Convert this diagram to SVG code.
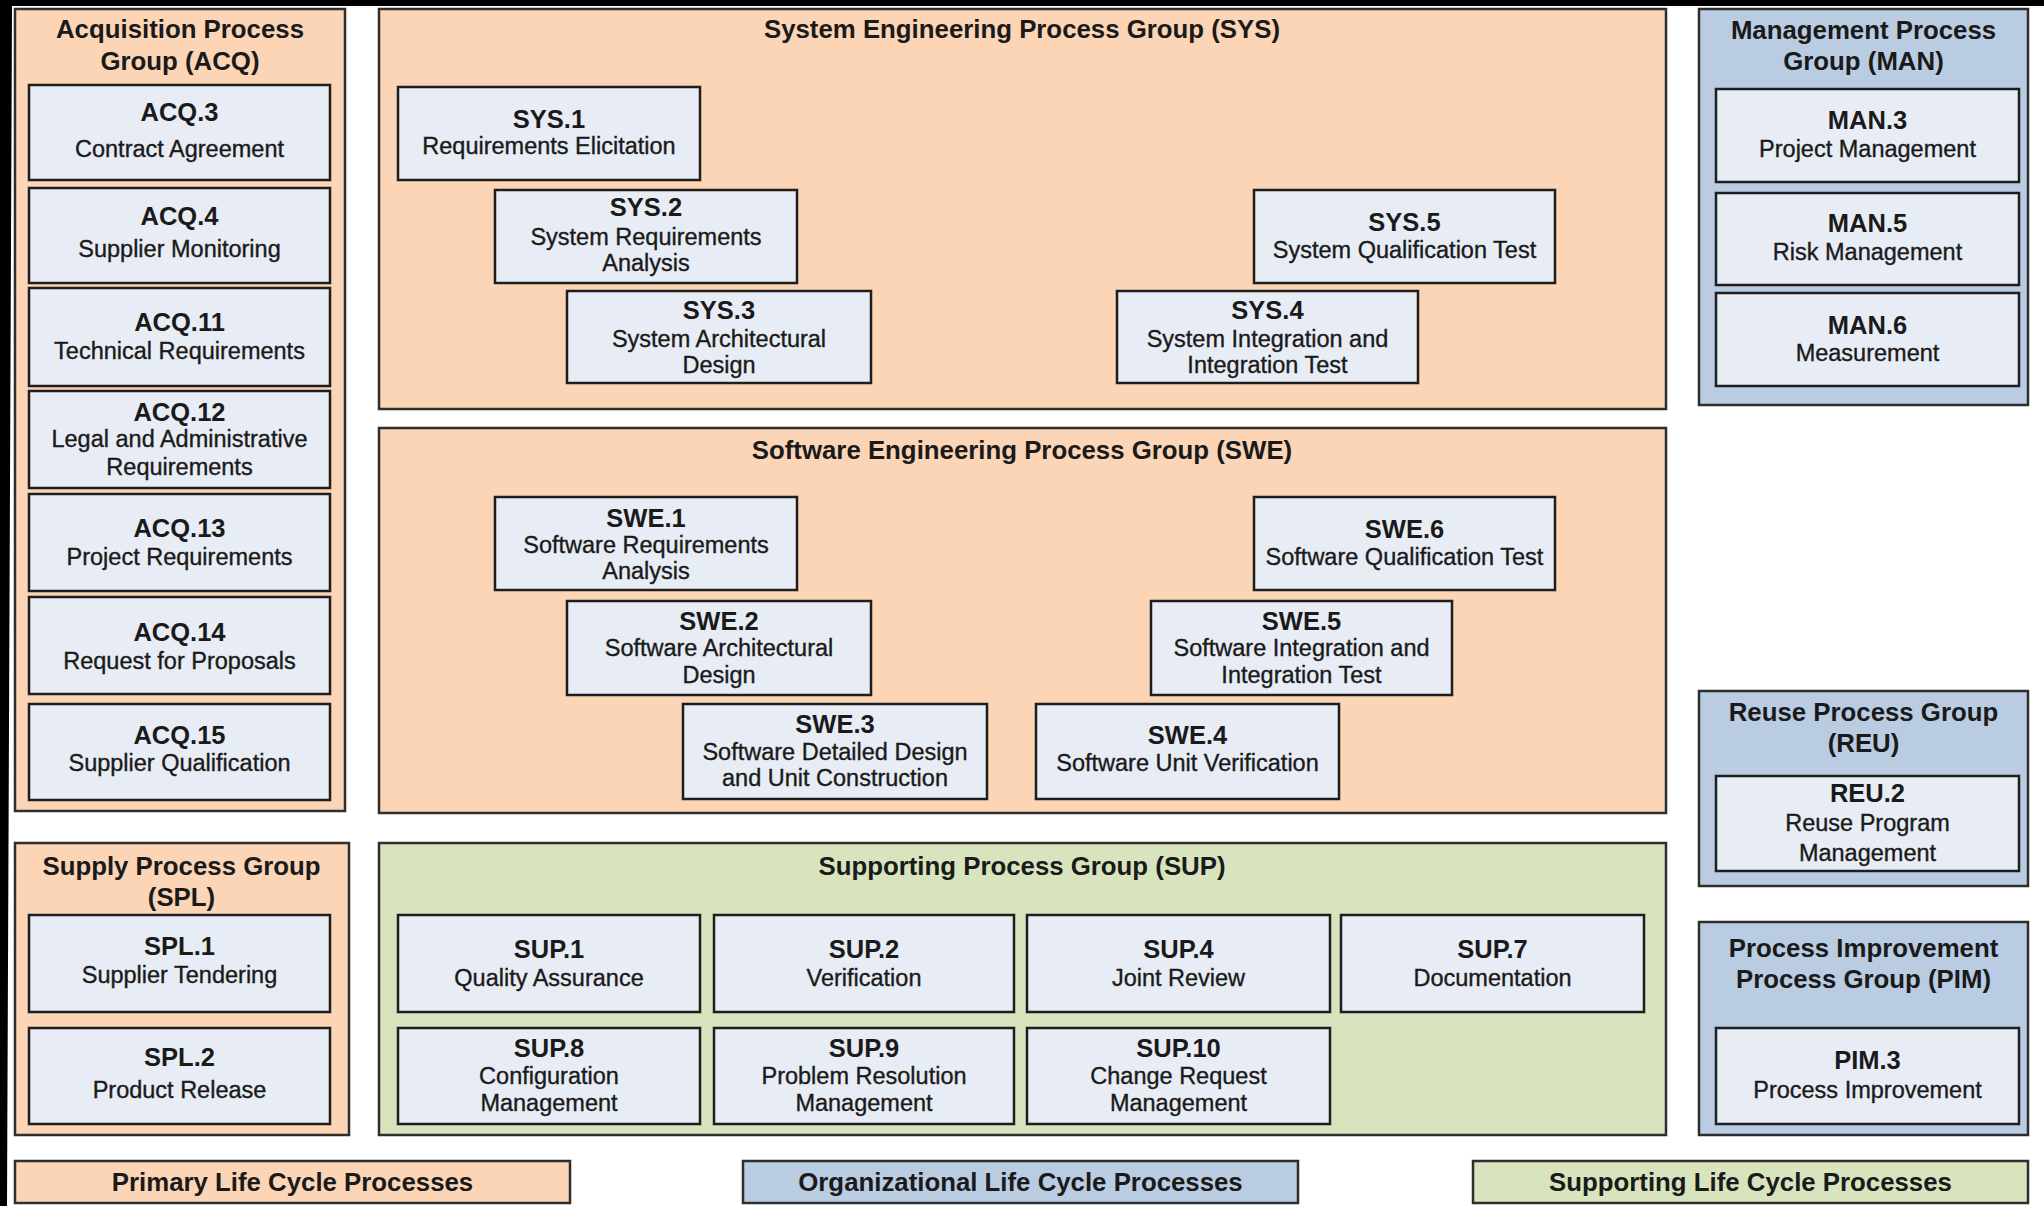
<svg xmlns="http://www.w3.org/2000/svg" width="2044" height="1206" viewBox="0 0 2044 1206">
  <style>
    .grp { stroke: #2e2e2e; stroke-width: 2.5; }
    .orange { fill: #FBD5B5; }
    .blue { fill: #BACCE2; }
    .green { fill: #D8E4BE; }
    .node rect { fill: #E7ECF5; stroke: #1e1e1e; stroke-width: 2.5; }
    text { font-family: "Liberation Sans", Arial, sans-serif; fill: #1a1a1a; text-anchor: middle; }
    .title { font-size: 25.8px; font-weight: bold; }
    .id { font-size: 25.5px; font-weight: bold; }
    .sub { font-size: 23.5px; stroke: #1a1a1a; stroke-width: 0.35; }
  </style>

  <!-- page background and black frame -->
  <rect x="0" y="0" width="2044" height="1206" fill="#ffffff"/>
  <polygon points="0,0 2044,0 2044,6 12,6 7,1206 0,1206" fill="#000"/>

  <!-- ===== Acquisition Process Group ===== -->
  <g id="grp-acq">
    <rect class="grp orange" x="15" y="9" width="330" height="802"/>
    <text class="title" x="180" y="38">Acquisition Process</text>
    <text class="title" x="180" y="70">Group (ACQ)</text>
  </g>
  <g id="acq3" class="node">
    <rect x="29" y="85" width="301" height="95"/>
    <text class="id" x="179.5" y="121">ACQ.3</text>
    <text class="sub" x="179.5" y="157">Contract Agreement</text>
  </g>
  <g id="acq4" class="node">
    <rect x="29" y="188" width="301" height="95"/>
    <text class="id" x="179.5" y="225">ACQ.4</text>
    <text class="sub" x="179.5" y="257">Supplier Monitoring</text>
  </g>
  <g id="acq11" class="node">
    <rect x="29" y="288" width="301" height="98"/>
    <text class="id" x="179.5" y="331">ACQ.11</text>
    <text class="sub" x="179.5" y="359">Technical Requirements</text>
  </g>
  <g id="acq12" class="node">
    <rect x="29" y="391" width="301" height="97"/>
    <text class="id" x="179.5" y="421">ACQ.12</text>
    <text class="sub" x="179.5" y="447">Legal and Administrative</text>
    <text class="sub" x="179.5" y="475">Requirements</text>
  </g>
  <g id="acq13" class="node">
    <rect x="29" y="494" width="301" height="97"/>
    <text class="id" x="179.5" y="537">ACQ.13</text>
    <text class="sub" x="179.5" y="565">Project Requirements</text>
  </g>
  <g id="acq14" class="node">
    <rect x="29" y="597" width="301" height="97"/>
    <text class="id" x="179.5" y="641">ACQ.14</text>
    <text class="sub" x="179.5" y="669">Request for Proposals</text>
  </g>
  <g id="acq15" class="node">
    <rect x="29" y="704" width="301" height="96"/>
    <text class="id" x="179.5" y="744">ACQ.15</text>
    <text class="sub" x="179.5" y="771">Supplier Qualification</text>
  </g>

  <!-- ===== System Engineering Process Group ===== -->
  <g id="grp-sys">
    <rect class="grp orange" x="379" y="9" width="1287" height="400"/>
    <text class="title" x="1022" y="38">System Engineering Process Group (SYS)</text>
  </g>
  <g id="sys1" class="node">
    <rect x="398" y="87" width="302" height="93"/>
    <text class="id" x="549" y="128">SYS.1</text>
    <text class="sub" x="549" y="154">Requirements Elicitation</text>
  </g>
  <g id="sys2" class="node">
    <rect x="495" y="190" width="302" height="93"/>
    <text class="id" x="646" y="216">SYS.2</text>
    <text class="sub" x="646" y="245">System Requirements</text>
    <text class="sub" x="646" y="271">Analysis</text>
  </g>
  <g id="sys3" class="node">
    <rect x="567" y="291" width="304" height="92"/>
    <text class="id" x="719" y="319">SYS.3</text>
    <text class="sub" x="719" y="347">System Architectural</text>
    <text class="sub" x="719" y="373">Design</text>
  </g>
  <g id="sys4" class="node">
    <rect x="1117" y="291" width="301" height="92"/>
    <text class="id" x="1267.5" y="319">SYS.4</text>
    <text class="sub" x="1267.5" y="347">System Integration and</text>
    <text class="sub" x="1267.5" y="373">Integration Test</text>
  </g>
  <g id="sys5" class="node">
    <rect x="1254" y="190" width="301" height="93"/>
    <text class="id" x="1404.5" y="231">SYS.5</text>
    <text class="sub" x="1404.5" y="258">System Qualification Test</text>
  </g>

  <!-- ===== Software Engineering Process Group ===== -->
  <g id="grp-swe">
    <rect class="grp orange" x="379" y="428" width="1287" height="385"/>
    <text class="title" x="1022" y="459">Software Engineering Process Group (SWE)</text>
  </g>
  <g id="swe1" class="node">
    <rect x="495" y="497" width="302" height="93"/>
    <text class="id" x="646" y="527">SWE.1</text>
    <text class="sub" x="646" y="553">Software Requirements</text>
    <text class="sub" x="646" y="579">Analysis</text>
  </g>
  <g id="swe2" class="node">
    <rect x="567" y="601" width="304" height="94"/>
    <text class="id" x="719" y="630">SWE.2</text>
    <text class="sub" x="719" y="656">Software Architectural</text>
    <text class="sub" x="719" y="683">Design</text>
  </g>
  <g id="swe3" class="node">
    <rect x="683" y="704" width="304" height="95"/>
    <text class="id" x="835" y="733">SWE.3</text>
    <text class="sub" x="835" y="760">Software Detailed Design</text>
    <text class="sub" x="835" y="786">and Unit Construction</text>
  </g>
  <g id="swe4" class="node">
    <rect x="1036" y="704" width="303" height="95"/>
    <text class="id" x="1187.5" y="744">SWE.4</text>
    <text class="sub" x="1187.5" y="771">Software Unit Verification</text>
  </g>
  <g id="swe5" class="node">
    <rect x="1151" y="601" width="301" height="94"/>
    <text class="id" x="1301.5" y="630">SWE.5</text>
    <text class="sub" x="1301.5" y="656">Software Integration and</text>
    <text class="sub" x="1301.5" y="683">Integration Test</text>
  </g>
  <g id="swe6" class="node">
    <rect x="1254" y="497" width="301" height="93"/>
    <text class="id" x="1404.5" y="538">SWE.6</text>
    <text class="sub" x="1404.5" y="565">Software Qualification Test</text>
  </g>

  <!-- ===== Management Process Group ===== -->
  <g id="grp-man">
    <rect class="grp blue" x="1699" y="9" width="329" height="396"/>
    <text class="title" x="1863.5" y="39">Management Process</text>
    <text class="title" x="1863.5" y="70">Group (MAN)</text>
  </g>
  <g id="man3" class="node">
    <rect x="1716" y="89" width="303" height="93"/>
    <text class="id" x="1867.5" y="129">MAN.3</text>
    <text class="sub" x="1867.5" y="157">Project Management</text>
  </g>
  <g id="man5" class="node">
    <rect x="1716" y="193" width="303" height="92"/>
    <text class="id" x="1867.5" y="232">MAN.5</text>
    <text class="sub" x="1867.5" y="260">Risk Management</text>
  </g>
  <g id="man6" class="node">
    <rect x="1716" y="293" width="303" height="93"/>
    <text class="id" x="1867.5" y="334">MAN.6</text>
    <text class="sub" x="1867.5" y="361">Measurement</text>
  </g>

  <!-- ===== Reuse Process Group ===== -->
  <g id="grp-reu">
    <rect class="grp blue" x="1699" y="691" width="329" height="195"/>
    <text class="title" x="1863.5" y="721">Reuse Process Group</text>
    <text class="title" x="1863.5" y="752">(REU)</text>
  </g>
  <g id="reu2" class="node">
    <rect x="1716" y="776" width="303" height="95"/>
    <text class="id" x="1867.5" y="802">REU.2</text>
    <text class="sub" x="1867.5" y="831">Reuse Program</text>
    <text class="sub" x="1867.5" y="861">Management</text>
  </g>

  <!-- ===== Process Improvement Process Group ===== -->
  <g id="grp-pim">
    <rect class="grp blue" x="1699" y="922" width="329" height="213"/>
    <text class="title" x="1863.5" y="957">Process Improvement</text>
    <text class="title" x="1863.5" y="988">Process Group (PIM)</text>
  </g>
  <g id="pim3" class="node">
    <rect x="1716" y="1028" width="303" height="96"/>
    <text class="id" x="1867.5" y="1069">PIM.3</text>
    <text class="sub" x="1867.5" y="1098">Process Improvement</text>
  </g>

  <!-- ===== Supply Process Group ===== -->
  <g id="grp-spl">
    <rect class="grp orange" x="15" y="843" width="334" height="292"/>
    <text class="title" x="181.5" y="875">Supply Process Group</text>
    <text class="title" x="181.5" y="906">(SPL)</text>
  </g>
  <g id="spl1" class="node">
    <rect x="29" y="915" width="301" height="97"/>
    <text class="id" x="179.5" y="955">SPL.1</text>
    <text class="sub" x="179.5" y="983">Supplier Tendering</text>
  </g>
  <g id="spl2" class="node">
    <rect x="29" y="1028" width="301" height="96"/>
    <text class="id" x="179.5" y="1066">SPL.2</text>
    <text class="sub" x="179.5" y="1098">Product Release</text>
  </g>

  <!-- ===== Supporting Process Group ===== -->
  <g id="grp-sup">
    <rect class="grp green" x="379" y="843" width="1287" height="292"/>
    <text class="title" x="1022" y="875">Supporting Process Group (SUP)</text>
  </g>
  <g id="sup1" class="node">
    <rect x="398" y="915" width="302" height="97"/>
    <text class="id" x="549" y="958">SUP.1</text>
    <text class="sub" x="549" y="986">Quality Assurance</text>
  </g>
  <g id="sup2" class="node">
    <rect x="714" y="915" width="300" height="97"/>
    <text class="id" x="864" y="958">SUP.2</text>
    <text class="sub" x="864" y="986">Verification</text>
  </g>
  <g id="sup4" class="node">
    <rect x="1027" y="915" width="303" height="97"/>
    <text class="id" x="1178.5" y="958">SUP.4</text>
    <text class="sub" x="1178.5" y="986">Joint Review</text>
  </g>
  <g id="sup7" class="node">
    <rect x="1341" y="915" width="303" height="97"/>
    <text class="id" x="1492.5" y="958">SUP.7</text>
    <text class="sub" x="1492.5" y="986">Documentation</text>
  </g>
  <g id="sup8" class="node">
    <rect x="398" y="1028" width="302" height="96"/>
    <text class="id" x="549" y="1057">SUP.8</text>
    <text class="sub" x="549" y="1084">Configuration</text>
    <text class="sub" x="549" y="1111">Management</text>
  </g>
  <g id="sup9" class="node">
    <rect x="714" y="1028" width="300" height="96"/>
    <text class="id" x="864" y="1057">SUP.9</text>
    <text class="sub" x="864" y="1084">Problem Resolution</text>
    <text class="sub" x="864" y="1111">Management</text>
  </g>
  <g id="sup10" class="node">
    <rect x="1027" y="1028" width="303" height="96"/>
    <text class="id" x="1178.5" y="1057">SUP.10</text>
    <text class="sub" x="1178.5" y="1084">Change Request</text>
    <text class="sub" x="1178.5" y="1111">Management</text>
  </g>

  <!-- no connectors in this chart -->
  <g id="connectors"/>

  <!-- ===== Legend ===== -->
  <g id="legend-primary">
    <rect class="grp orange" x="15" y="1161" width="555" height="42"/>
    <text class="title" x="292.5" y="1191">Primary Life Cycle Processes</text>
  </g>
  <g id="legend-organizational">
    <rect class="grp blue" x="743" y="1161" width="555" height="42"/>
    <text class="title" x="1020.5" y="1191">Organizational Life Cycle Processes</text>
  </g>
  <g id="legend-supporting">
    <rect class="grp green" x="1473" y="1161" width="555" height="42"/>
    <text class="title" x="1750.5" y="1191">Supporting Life Cycle Processes</text>
  </g>
</svg>
